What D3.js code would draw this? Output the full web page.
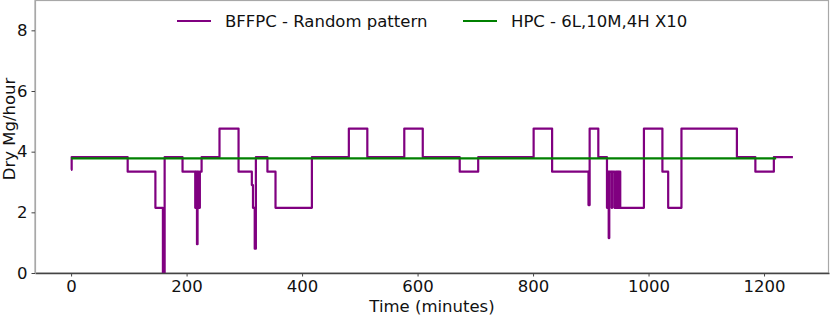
<!DOCTYPE html>
<html>
<head>
<meta charset="utf-8">
<script src="https://cdn.jsdelivr.net/npm/d3@7"></script>
<style>
  body { margin: 0; background: #fff; }
  text { font-family: "DejaVu Sans", sans-serif; fill: #111; }
</style>
</head>
<body>
<div id="container"></div>
<script>
// step profile of dry solids flow, BFFPC random pattern vs HPC

// BFFPC - each value holds from its start minute until the next one
var bffpcTime = [0, 1, 98, 146, 159, 162, 193, 215, 216, 218, 219, 221, 223, 226,
  257, 290, 313, 315, 318, 320, 340, 354, 417, 481, 513, 577, 609, 673, 705, 801, 833,
  896, 898, 913, 928, 929, 931, 932, 936, 937, 941, 943, 945, 946, 948, 949, 951,
  992, 1024, 1034, 1057, 1153, 1185, 1217, 1250];
var bffpcValue = [3.4, 3.82, 3.34, 2.15, 0, 3.82, 3.34, 2.15, 3.34, 0.95, 3.34, 2.15, 3.34, 3.82,
  4.76, 3.34, 2.9, 2.15, 0.8, 3.82, 3.34, 2.15, 3.82, 4.76, 3.82, 4.76, 3.82, 3.34, 3.82, 4.76, 3.34,
  2.24, 4.76, 3.82, 2.15, 3.34, 1.15, 3.34, 2.15, 3.34, 2.15, 3.34, 2.15, 3.34, 2.15, 3.34, 2.15,
  4.76, 3.34, 2.15, 4.76, 3.82, 3.34, 3.82, 3.82];

// HPC - constant rate
var hpcTime = [0, 1221];
var hpcValue = [3.78, 3.78];

var xTicks = [0, 200, 400, 600, 800, 1000, 1200];
var yTicks = [0, 2, 4, 6, 8];
var seriesNames = ["BFFPC - Random pattern", "HPC - 6L,10M,4H X10"];
var seriesColors = ["#800080", "#008000"];

var margin = {top: 0, right: 1, bottom: 42, left: 35},
    width = 830 - margin.left - margin.right,
    height = 315 - margin.top - margin.bottom;

var svg = d3.select("#container").append("svg")
    .attr("width", 830)
    .attr("height", 315)
  .append("g")
    .attr("transform", "translate(" + margin.left + "," + margin.top + ")");

var x = d3.scaleLinear().domain([-62.5, 1312.5]).range([0, width]);
var y = d3.scaleLinear().domain([0, 9]).range([height, 0]);

// frame (left/top/right light grey)
svg.append("rect")
    .attr("x", 0).attr("y", 0.5)
    .attr("width", width - 0.5).attr("height", height - 0.5)
    .attr("fill", "none")
    .attr("stroke", "#a8a8a8")
    .attr("stroke-width", 1.2);

// lines
var line = d3.line()
    .x(function(d) { return x(d[0]); })
    .y(function(d) { return y(d[1]); })
    .curve(d3.curveStepAfter);

var bffpc = bffpcTime.map(function(t, i) { return [t, bffpcValue[i]]; });
var hpc = hpcTime.map(function(t, i) { return [t, hpcValue[i]]; });

svg.append("path")
    .datum(bffpc)
    .attr("d", line)
    .attr("fill", "none")
    .attr("stroke", seriesColors[0])
    .attr("stroke-width", 2.2)
    .attr("stroke-linejoin", "round");

svg.append("path")
    .datum(hpc)
    .attr("d", line)
    .attr("fill", "none")
    .attr("stroke", seriesColors[1])
    .attr("stroke-width", 2.2);

// axes
var xAxis = svg.append("g")
    .attr("transform", "translate(0," + height + ")")
    .call(d3.axisBottom(x).tickValues(xTicks).tickFormat(d3.format("d"))
      .tickSize(3.5).tickPadding(4).tickSizeOuter(0));
xAxis.select(".domain").attr("stroke", "#444").attr("stroke-width", 1.3);
xAxis.selectAll(".tick line").attr("stroke", "#444");
xAxis.selectAll("text")
    .style("font-size", "16.5px")
    .style("font-family", "DejaVu Sans")
    .attr("fill", "#111");

var yAxis = svg.append("g")
    .call(d3.axisLeft(y).tickValues(yTicks).tickSize(3.5).tickPadding(4).tickSizeOuter(0));
yAxis.select(".domain").attr("stroke", "#a8a8a8").attr("stroke-width", 1.2);
yAxis.selectAll(".tick line").attr("stroke", "#444");
yAxis.selectAll("text")
    .style("font-size", "16.5px")
    .style("font-family", "DejaVu Sans")
    .attr("fill", "#111");

// axis labels
svg.append("text")
    .attr("x", width / 2)
    .attr("y", height + 39)
    .attr("text-anchor", "middle")
    .style("font-size", "16.5px")
    .text("Time (minutes)");

svg.append("text")
    .attr("transform", "rotate(-90)")
    .attr("x", -129)
    .attr("y", -margin.left + 15)
    .attr("text-anchor", "middle")
    .style("font-size", "16.5px")
    .text("Dry Mg/hour");

// legend
var legendX = [142, 428];
seriesNames.forEach(function(name, i) {
  var g = svg.append("g").attr("transform", "translate(" + legendX[i] + ",21)");
  g.append("line")
      .attr("x1", 0).attr("x2", 34)
      .attr("stroke", seriesColors[i])
      .attr("stroke-width", 2.2);
  g.append("text")
      .attr("x", 48)
      .attr("dy", "0.35em")
      .style("font-size", "16.5px")
      .text(name);
});
</script>
</body>
</html>
